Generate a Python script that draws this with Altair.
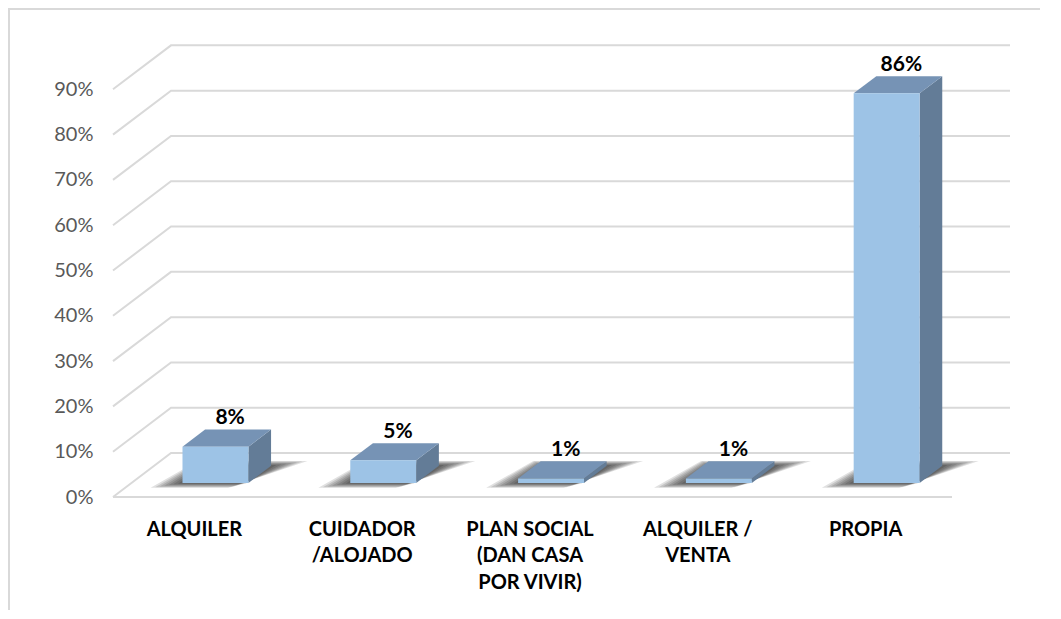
import json
import altair as alt
import pandas as pd

# ---------------- data ----------------
categories = ["ALQUILER", "CUIDADOR|/ALOJADO", "PLAN SOCIAL|(DAN CASA|POR VIVIR)", "ALQUILER /|VENTA", "PROPIA"]
values = [8, 5, 1, 1, 86]
y_ticks = [0, 10, 20, 30, 40, 50, 60, 70, 80, 90]

# ---------------- 3D geometry (style constants, data units) ----------------
DX = 0.3457   # wall depth along x (category units)
DY = 9.7      # wall depth along y (percent units)
Z0 = 0.32     # bar front position as a fraction of the depth
ZD = 0.39     # bar depth as a fraction of the depth
BW = 0.393    # bar width (category units)
PX_X = 167.8  # pixels per category unit
PX_Y = 4.533  # pixels per percent

FRONT = "#9DC3E6"
TOP = "#7693B5"
SIDE = "#637C97"
GRID = "#D9D9D9"
FONT = "Lato"

n = len(categories)

# grid lines: front-left diagonal + back wall horizontal
grid_rows = []
for v in y_ticks:
    grid_rows += [
        {"g": f"g{v}", "x": 0.0, "y": v},
        {"g": f"g{v}", "x": DX, "y": v + DY},
        {"g": f"g{v}", "x": n + DX, "y": v + DY},
    ]
grid_rows += [{"g": "floor", "x": 0.0, "y": 0.0}, {"g": "floor", "x": float(n), "y": 0.0}]
grid_df = pd.DataFrame(grid_rows)

front_rows, top_rows, side_rows, shadow_rows, label_rows = [], [], [], [], []
for i, (c, v) in enumerate(zip(categories, values)):
    cx = i + 0.5 + Z0 * DX
    x0, x1 = cx - BW / 2, cx + BW / 2
    y0 = Z0 * DY
    y1 = y0 + v
    ddx, ddy = ZD * DX, ZD * DY
    front_rows.append({"c": c, "x0": x0, "x1": x1, "y0": y0, "y1": y1})
    top_rows += [
        {"c": c, "y": y1, "xa": x0, "xb": x1},
        {"c": c, "y": y1 + ddy, "xa": x0 + ddx, "xb": x1 + ddx},
    ]
    side_rows += [
        {"c": c, "x": x1, "ya": y0, "yb": y1},
        {"c": c, "x": x1 + ddx, "ya": y0 + ddy, "yb": y1 + ddy},
    ]
    # soft floor shadow as stacked translucent parallelograms
    for k in range(1, 8):
        ex = (3.3 * k) / PX_X
        ez = (0.7 * k) / PX_Y / DY
        zf, zb = Z0 - ez, Z0 + ZD + ez
        sid = f"{i}-{k}"
        shadow_rows += [
            {"s": sid, "op": 0.12, "y": zf * DY,
             "xa": x0 + (zf - Z0) * DX - ex * 1.1, "xb": x1 + (zf - Z0) * DX - ex * 0.6},
            {"s": sid, "op": 0.12, "y": zb * DY,
             "xa": x0 + (zb - Z0) * DX - ex * 0.6, "xb": x1 + (zb - Z0) * DX + ex * 1.3},
        ]
    label_rows.append({"x": cx + ddx / 2 + 0.02, "y": y1 + ddy + 2.5, "t": f"{v}%"})

front_df = pd.DataFrame(front_rows)
top_df = pd.DataFrame(top_rows)
side_df = pd.DataFrame(side_rows)
shadow_df = pd.DataFrame(shadow_rows)
label_df = pd.DataFrame(label_rows)

xscale = alt.Scale(domain=[0, n + DX], nice=False, zero=False)
yscale = alt.Scale(domain=[0, 100], nice=False, zero=False)

label_list = json.dumps(categories).replace('"', "'")
x_axis = alt.Axis(
    values=[i + 0.5 for i in range(n)],
    labelExpr=f"split({label_list}[floor(datum.value)], '|')",
    grid=False, domain=False, ticks=False, title=None,
    labelFont=FONT, labelFontSize=20, labelFontWeight="bold", labelColor="#000000",
    labelPadding=22, labelBaseline="top", labelLineHeight=26.5, labelAngle=0,
    labelOffset=-3,
)
y_axis = alt.Axis(
    values=y_ticks, labelExpr="datum.value + '%'",
    grid=False, domain=False, ticks=False, title=None,
    labelFont=FONT, labelFontSize=20, labelColor="#595959", labelPadding=20,
)

grid = alt.Chart(grid_df).mark_line(color=GRID, strokeWidth=2).encode(
    x=alt.X("x:Q", scale=xscale, axis=x_axis),
    y=alt.Y("y:Q", scale=yscale, axis=y_axis),
    detail="g:N",
    order="x:Q",
)

shadow = alt.Chart(shadow_df).mark_area(orient="horizontal", color="#000000").encode(
    y=alt.Y("y:Q", scale=yscale),
    x=alt.X("xa:Q", scale=xscale, stack=None),
    x2="xb:Q",
    detail="s:N",
    opacity=alt.Opacity("op:Q", scale=None, legend=None),
)

side = alt.Chart(side_df).mark_area(color=SIDE).encode(
    x=alt.X("x:Q", scale=xscale),
    y=alt.Y("ya:Q", scale=yscale, stack=None),
    y2="yb:Q",
    detail="c:N",
)

top = alt.Chart(top_df).mark_area(orient="horizontal", color=TOP).encode(
    y=alt.Y("y:Q", scale=yscale),
    x=alt.X("xa:Q", scale=xscale, stack=None),
    x2="xb:Q",
    detail="c:N",
)

front = alt.Chart(front_df).mark_rect(color=FRONT).encode(
    x=alt.X("x0:Q", scale=xscale), x2="x1:Q",
    y=alt.Y("y0:Q", scale=yscale), y2="y1:Q",
)

labels = alt.Chart(label_df).mark_text(
    font=FONT, fontSize=21, fontWeight="bold", color="#000000", baseline="middle"
).encode(
    x=alt.X("x:Q", scale=xscale),
    y=alt.Y("y:Q", scale=yscale),
    text="t:N",
)

border = alt.Chart(pd.DataFrame({"a": [0]})).mark_rule(color="#D9D9D9", strokeWidth=2).encode(
    x=alt.value(-104), y=alt.value(-36), y2=alt.value(620)
)
border_top = alt.Chart(pd.DataFrame({"a": [0]})).mark_rule(color="#D9D9D9", strokeWidth=2).encode(
    x=alt.value(-104), x2=alt.value(1000), y=alt.value(-35)
)

chart = alt.layer(border, border_top, grid, shadow, side, top, front, labels).properties(
    width=897, height=453,
    padding={"left": 105, "top": 36, "right": 30, "bottom": 113},
    autosize=alt.AutoSizeParams(type="none"),
    background="#FFFFFF",
).configure_view(stroke=None)

chart.save("out.html", embed_options={"renderer": "svg", "actions": False})
